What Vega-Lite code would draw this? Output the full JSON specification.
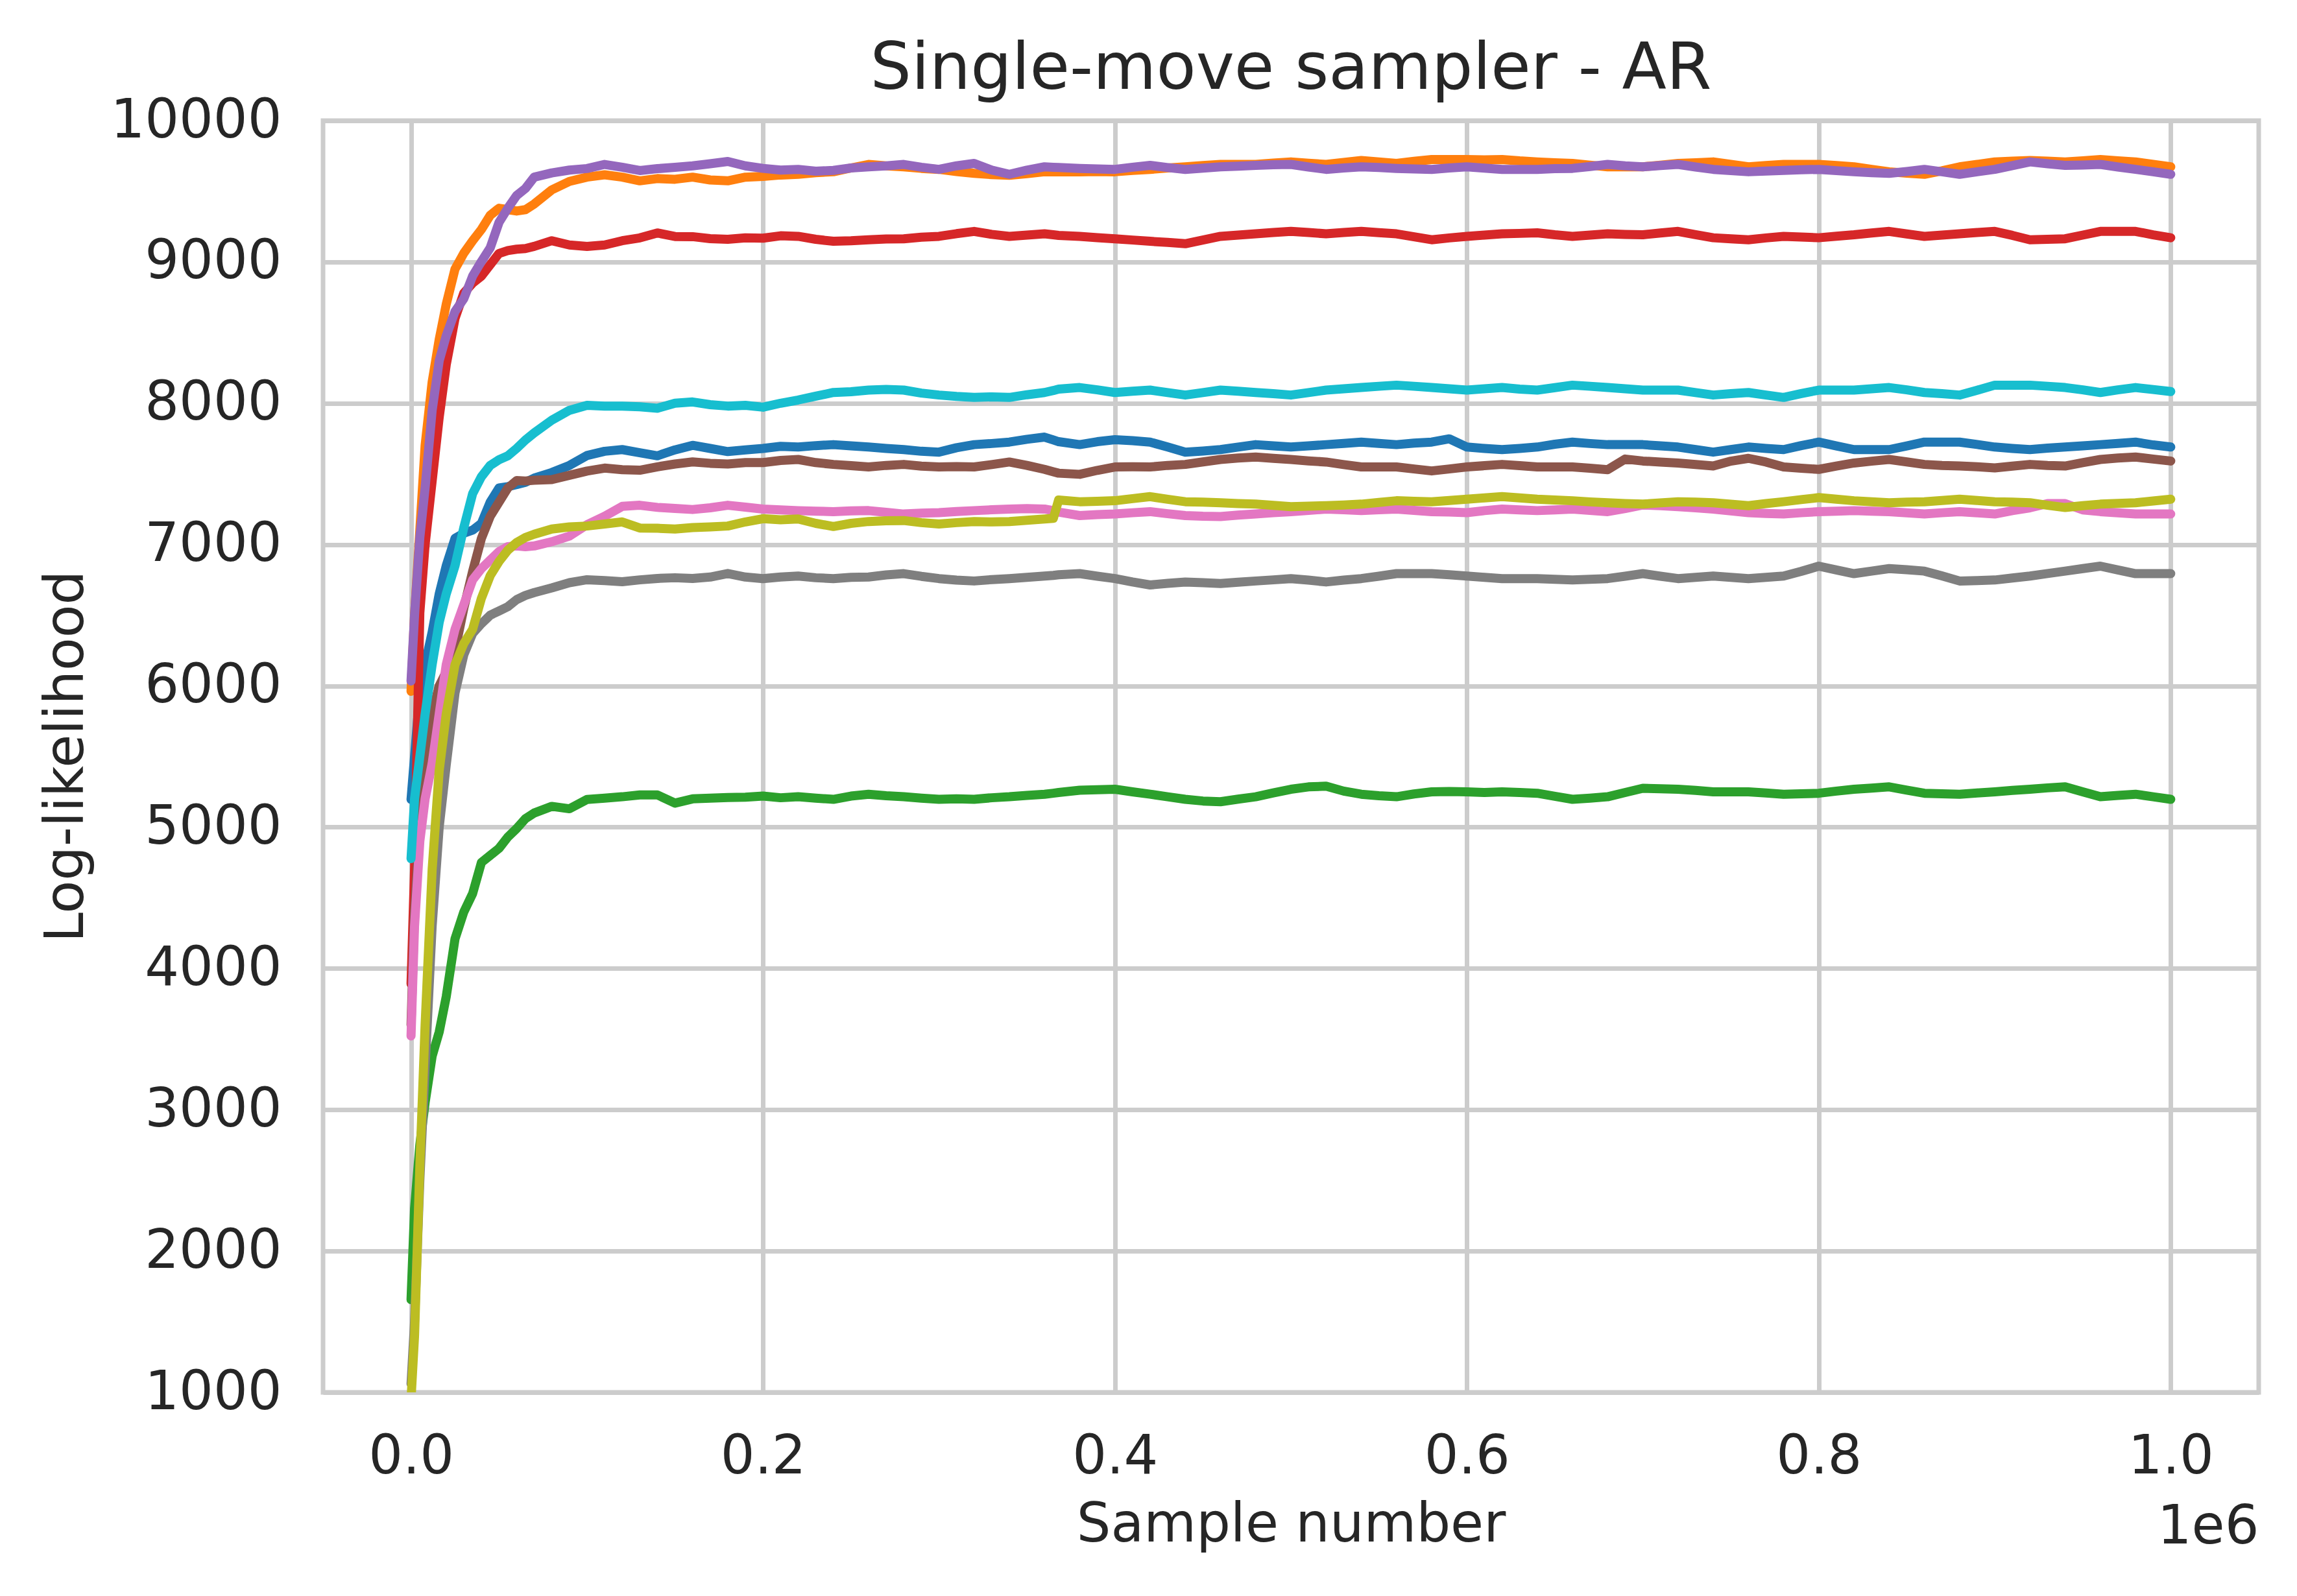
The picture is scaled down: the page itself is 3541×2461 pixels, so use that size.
{
  "$schema": "https://vega.github.io/schema/vega-lite/v6.json",
  "description": "Log-likelihood traces of ten chains, single-move sampler (AR).",
  "background": "white",
  "autosize": "none",
  "padding": {"left": 498, "top": 186, "right": 59, "bottom": 314},
  "width": 2984,
  "height": 1961,
  "title": {
    "text": "Single-move sampler - AR",
    "font": "DejaVu Sans",
    "fontSize": 100,
    "fontWeight": "normal",
    "color": "#262626",
    "baseline": "alphabetic",
    "frame": "group",
    "offset": -92
  },
  "layer": [
    {
      "data": {
        "values": [
          {"s": 0, "c1": 5196, "c2": 5961, "c3": 1656, "c4": 3892, "c5": 6034, "c6": 3600, "c7": 3522, "c8": 1060, "c9": 950, "c10": 4777},
          {"s": 2000, "c1": 5500, "c2": 6500, "c3": 2300, "c4": 4700, "c5": 6500, "c6": 4400, "c7": 4300, "c8": 1500, "c9": 1400, "c10": 5200},
          {"s": 5000, "c1": 5950, "c2": 7100, "c3": 2750, "c4": 6517, "c5": 7050, "c6": 5000, "c7": 4900, "c8": 2500, "c9": 2600, "c10": 5500},
          {"s": 8000, "c1": 6150, "c2": 7700, "c3": 3050, "c4": 7000, "c5": 7400, "c6": 5500, "c7": 5200, "c8": 3300, "c9": 3600, "c10": 5800},
          {"s": 12000, "c1": 6380, "c2": 8150, "c3": 3380, "c4": 7450, "c5": 7950, "c6": 5800, "c7": 5450, "c8": 4300, "c9": 4700, "c10": 6150},
          {"s": 16000, "c1": 6650, "c2": 8450, "c3": 3550, "c4": 7900, "c5": 8300, "c6": 6000, "c7": 5800, "c8": 5000, "c9": 5400, "c10": 6450},
          {"s": 20000, "c1": 6850, "c2": 8700, "c3": 3800, "c4": 8272, "c5": 8477, "c6": 6100, "c7": 6150, "c8": 5440, "c9": 5800, "c10": 6650},
          {"s": 25000, "c1": 7044, "c2": 8950, "c3": 4210, "c4": 8600, "c5": 8650, "c6": 6250, "c7": 6400, "c8": 5950, "c9": 6150, "c10": 6850},
          {"s": 30000, "c1": 7080, "c2": 9062, "c3": 4400, "c4": 8780, "c5": 8740, "c6": 6550, "c7": 6575, "c8": 6220, "c9": 6300, "c10": 7120},
          {"s": 35000, "c1": 7102, "c2": 9150, "c3": 4530, "c4": 8850, "c5": 8900, "c6": 6810, "c7": 6750, "c8": 6371, "c9": 6400, "c10": 7360},
          {"s": 40000, "c1": 7150, "c2": 9230, "c3": 4750, "c4": 8900, "c5": 9003, "c6": 7044, "c7": 6830, "c8": 6440, "c9": 6620, "c10": 7480},
          {"s": 45000, "c1": 7300, "c2": 9330, "c3": 4800, "c4": 8980, "c5": 9100, "c6": 7200, "c7": 6890, "c8": 6500, "c9": 6780, "c10": 7560},
          {"s": 50000, "c1": 7400, "c2": 9380, "c3": 4850, "c4": 9060, "c5": 9280, "c6": 7300, "c7": 6950, "c8": 6530, "c9": 6880, "c10": 7600},
          {"s": 55000, "c1": 7410, "c2": 9370, "c3": 4930, "c4": 9080, "c5": 9380, "c6": 7400, "c7": 6985, "c8": 6560, "c9": 6960, "c10": 7628},
          {"s": 60000, "c1": 7424, "c2": 9360, "c3": 4990, "c4": 9090, "c5": 9470, "c6": 7453, "c7": 6990, "c8": 6610, "c9": 7014, "c10": 7680},
          {"s": 65000, "c1": 7440, "c2": 9370, "c3": 5060, "c4": 9095, "c5": 9520, "c6": 7450, "c7": 6985, "c8": 6640, "c9": 7050, "c10": 7740},
          {"s": 70000, "c1": 7470, "c2": 9410, "c3": 5100, "c4": 9110, "c5": 9600, "c6": 7455, "c7": 6990, "c8": 6660, "c9": 7073, "c10": 7790},
          {"s": 80000, "c1": 7510, "c2": 9510, "c3": 5147, "c4": 9150, "c5": 9630, "c6": 7460, "c7": 7020, "c8": 6693, "c9": 7110, "c10": 7880},
          {"s": 90000, "c1": 7560, "c2": 9570, "c3": 5130, "c4": 9120, "c5": 9650, "c6": 7490, "c7": 7060, "c8": 6730, "c9": 7125, "c10": 7950},
          {"s": 100000, "c1": 7630, "c2": 9600, "c3": 5196, "c4": 9110, "c5": 9661, "c6": 7520, "c7": 7140, "c8": 6751, "c9": 7131, "c10": 7985},
          {"s": 110000, "c1": 7660, "c2": 9617, "c3": 5205, "c4": 9120, "c5": 9690, "c6": 7541, "c7": 7200, "c8": 6745, "c9": 7145, "c10": 7980},
          {"s": 120000, "c1": 7672, "c2": 9600, "c3": 5215, "c4": 9150, "c5": 9670, "c6": 7530, "c7": 7270, "c8": 6737, "c9": 7160, "c10": 7980},
          {"s": 130000, "c1": 7650, "c2": 9574, "c3": 5228, "c4": 9170, "c5": 9647, "c6": 7526, "c7": 7278, "c8": 6750, "c9": 7117, "c10": 7975},
          {"s": 140000, "c1": 7628, "c2": 9590, "c3": 5228, "c4": 9205, "c5": 9660, "c6": 7550, "c7": 7263, "c8": 6760, "c9": 7115, "c10": 7965},
          {"s": 150000, "c1": 7670, "c2": 9585, "c3": 5170, "c4": 9180, "c5": 9670, "c6": 7570, "c7": 7255, "c8": 6765, "c9": 7110, "c10": 8000},
          {"s": 160000, "c1": 7702, "c2": 9600, "c3": 5200, "c4": 9179, "c5": 9680, "c6": 7585, "c7": 7248, "c8": 6760, "c9": 7120, "c10": 8009},
          {"s": 170000, "c1": 7680, "c2": 9580, "c3": 5205, "c4": 9165, "c5": 9695, "c6": 7575, "c7": 7260, "c8": 6770, "c9": 7125, "c10": 7990},
          {"s": 180000, "c1": 7658, "c2": 9574, "c3": 5210, "c4": 9160, "c5": 9711, "c6": 7570, "c7": 7278, "c8": 6795, "c9": 7131, "c10": 7980},
          {"s": 190000, "c1": 7670, "c2": 9600, "c3": 5212, "c4": 9170, "c5": 9680, "c6": 7580, "c7": 7265, "c8": 6770, "c9": 7160, "c10": 7985},
          {"s": 200000, "c1": 7680, "c2": 9605, "c3": 5220, "c4": 9168, "c5": 9662, "c6": 7580, "c7": 7251, "c8": 6759, "c9": 7183, "c10": 7972},
          {"s": 210000, "c1": 7695, "c2": 9615, "c3": 5208, "c4": 9185, "c5": 9650, "c6": 7595, "c7": 7245, "c8": 6770, "c9": 7175, "c10": 8000},
          {"s": 220000, "c1": 7690, "c2": 9620, "c3": 5215, "c4": 9181, "c5": 9655, "c6": 7602, "c7": 7240, "c8": 6777, "c9": 7181, "c10": 8023},
          {"s": 230000, "c1": 7700, "c2": 9632, "c3": 5205, "c4": 9160, "c5": 9642, "c6": 7580, "c7": 7236, "c8": 6765, "c9": 7150, "c10": 8050},
          {"s": 240000, "c1": 7707, "c2": 9638, "c3": 5197, "c4": 9146, "c5": 9648, "c6": 7567, "c7": 7233, "c8": 6759, "c9": 7128, "c10": 8076},
          {"s": 250000, "c1": 7698, "c2": 9665, "c3": 5220, "c4": 9150, "c5": 9665, "c6": 7558, "c7": 7238, "c8": 6768, "c9": 7150, "c10": 8082},
          {"s": 260000, "c1": 7690, "c2": 9690, "c3": 5233, "c4": 9157, "c5": 9673, "c6": 7549, "c7": 7240, "c8": 6770, "c9": 7163, "c10": 8093},
          {"s": 270000, "c1": 7680, "c2": 9680, "c3": 5222, "c4": 9162, "c5": 9680, "c6": 7560, "c7": 7228, "c8": 6785, "c9": 7168, "c10": 8098},
          {"s": 280000, "c1": 7672, "c2": 9673, "c3": 5215, "c4": 9164, "c5": 9690, "c6": 7567, "c7": 7216, "c8": 6794, "c9": 7170, "c10": 8093},
          {"s": 290000, "c1": 7660, "c2": 9662, "c3": 5205, "c4": 9175, "c5": 9670, "c6": 7555, "c7": 7222, "c8": 6775, "c9": 7155, "c10": 8072},
          {"s": 300000, "c1": 7654, "c2": 9655, "c3": 5197, "c4": 9181, "c5": 9655, "c6": 7549, "c7": 7226, "c8": 6759, "c9": 7145, "c10": 8058},
          {"s": 310000, "c1": 7685, "c2": 9640, "c3": 5200, "c4": 9200, "c5": 9680, "c6": 7552, "c7": 7234, "c8": 6748, "c9": 7155, "c10": 8048},
          {"s": 320000, "c1": 7707, "c2": 9627, "c3": 5197, "c4": 9216, "c5": 9697, "c6": 7549, "c7": 7240, "c8": 6742, "c9": 7163, "c10": 8041},
          {"s": 330000, "c1": 7715, "c2": 9618, "c3": 5208, "c4": 9195, "c5": 9650, "c6": 7566, "c7": 7246, "c8": 6752, "c9": 7160, "c10": 8045},
          {"s": 340000, "c1": 7725, "c2": 9613, "c3": 5215, "c4": 9181, "c5": 9620, "c6": 7584, "c7": 7251, "c8": 6759, "c9": 7163, "c10": 8041},
          {"s": 350000, "c1": 7745, "c2": 9625, "c3": 5225, "c4": 9190, "c5": 9650, "c6": 7560, "c7": 7254, "c8": 6768, "c9": 7172, "c10": 8060},
          {"s": 360000, "c1": 7760, "c2": 9638, "c3": 5233, "c4": 9199, "c5": 9673, "c6": 7532, "c7": 7251, "c8": 6777, "c9": 7181, "c10": 8076},
          {"s": 365000, "c1": 7740, "c2": 9638, "c3": 5240, "c4": 9192, "c5": 9670, "c6": 7515, "c7": 7240, "c8": 6782, "c9": 7185, "c10": 8090},
          {"s": 368000, "c1": 7728, "c2": 9638, "c3": 5245, "c4": 9188, "c5": 9668, "c6": 7505, "c7": 7230, "c8": 6786, "c9": 7315, "c10": 8100},
          {"s": 380000, "c1": 7707, "c2": 9638, "c3": 5261, "c4": 9181, "c5": 9662, "c6": 7497, "c7": 7205, "c8": 6794, "c9": 7303, "c10": 8111},
          {"s": 390000, "c1": 7728, "c2": 9640, "c3": 5265, "c4": 9172, "c5": 9658, "c6": 7525, "c7": 7212, "c8": 6776, "c9": 7306, "c10": 8095},
          {"s": 400000, "c1": 7742, "c2": 9638, "c3": 5268, "c4": 9164, "c5": 9655, "c6": 7549, "c7": 7216, "c8": 6759, "c9": 7310, "c10": 8076},
          {"s": 410000, "c1": 7735, "c2": 9648, "c3": 5250, "c4": 9155, "c5": 9670, "c6": 7550, "c7": 7225, "c8": 6735, "c9": 7325, "c10": 8085},
          {"s": 420000, "c1": 7725, "c2": 9655, "c3": 5233, "c4": 9146, "c5": 9683, "c6": 7549, "c7": 7233, "c8": 6714, "c9": 7339, "c10": 8093},
          {"s": 430000, "c1": 7690, "c2": 9665, "c3": 5215, "c4": 9138, "c5": 9668, "c6": 7560, "c7": 7218, "c8": 6725, "c9": 7320, "c10": 8075},
          {"s": 440000, "c1": 7654, "c2": 9673, "c3": 5197, "c4": 9129, "c5": 9655, "c6": 7567, "c7": 7205, "c8": 6735, "c9": 7303, "c10": 8058},
          {"s": 450000, "c1": 7662, "c2": 9682, "c3": 5185, "c4": 9155, "c5": 9664, "c6": 7585, "c7": 7200, "c8": 6730, "c9": 7300, "c10": 8075},
          {"s": 460000, "c1": 7672, "c2": 9690, "c3": 5180, "c4": 9181, "c5": 9673, "c6": 7602, "c7": 7198, "c8": 6724, "c9": 7296, "c10": 8093},
          {"s": 470000, "c1": 7690, "c2": 9690, "c3": 5198, "c4": 9190, "c5": 9678, "c6": 7612, "c7": 7208, "c8": 6733, "c9": 7290, "c10": 8085},
          {"s": 480000, "c1": 7707, "c2": 9690, "c3": 5215, "c4": 9199, "c5": 9683, "c6": 7619, "c7": 7216, "c8": 6742, "c9": 7286, "c10": 8076},
          {"s": 490000, "c1": 7698, "c2": 9700, "c3": 5242, "c4": 9208, "c5": 9688, "c6": 7610, "c7": 7225, "c8": 6750, "c9": 7277, "c10": 8068},
          {"s": 500000, "c1": 7690, "c2": 9708, "c3": 5268, "c4": 9216, "c5": 9690, "c6": 7602, "c7": 7233, "c8": 6759, "c9": 7268, "c10": 8058},
          {"s": 510000, "c1": 7698, "c2": 9698, "c3": 5285, "c4": 9208, "c5": 9672, "c6": 7592, "c7": 7242, "c8": 6748, "c9": 7272, "c10": 8075},
          {"s": 520000, "c1": 7707, "c2": 9690, "c3": 5290, "c4": 9199, "c5": 9655, "c6": 7584, "c7": 7251, "c8": 6735, "c9": 7275, "c10": 8093},
          {"s": 530000, "c1": 7716, "c2": 9704, "c3": 5255, "c4": 9208, "c5": 9665, "c6": 7566, "c7": 7246, "c8": 6748, "c9": 7280, "c10": 8102},
          {"s": 540000, "c1": 7725, "c2": 9718, "c3": 5233, "c4": 9216, "c5": 9673, "c6": 7549, "c7": 7240, "c8": 6759, "c9": 7286, "c10": 8111},
          {"s": 550000, "c1": 7716, "c2": 9708, "c3": 5222, "c4": 9207, "c5": 9668, "c6": 7549, "c7": 7246, "c8": 6776, "c9": 7298, "c10": 8120},
          {"s": 560000, "c1": 7707, "c2": 9697, "c3": 5215, "c4": 9199, "c5": 9662, "c6": 7549, "c7": 7251, "c8": 6794, "c9": 7310, "c10": 8128},
          {"s": 570000, "c1": 7718, "c2": 9712, "c3": 5235, "c4": 9178, "c5": 9658, "c6": 7535, "c7": 7242, "c8": 6794, "c9": 7306, "c10": 8120},
          {"s": 580000, "c1": 7725, "c2": 9725, "c3": 5250, "c4": 9157, "c5": 9655, "c6": 7521, "c7": 7233, "c8": 6794, "c9": 7303, "c10": 8111},
          {"s": 590000, "c1": 7748, "c2": 9725, "c3": 5252, "c4": 9170, "c5": 9665, "c6": 7535, "c7": 7230, "c8": 6786, "c9": 7312, "c10": 8102},
          {"s": 600000, "c1": 7690, "c2": 9725, "c3": 5250, "c4": 9181, "c5": 9673, "c6": 7549, "c7": 7226, "c8": 6777, "c9": 7321, "c10": 8093},
          {"s": 610000, "c1": 7680, "c2": 9722, "c3": 5245, "c4": 9190, "c5": 9664, "c6": 7558, "c7": 7240, "c8": 6768, "c9": 7330, "c10": 8102},
          {"s": 620000, "c1": 7672, "c2": 9725, "c3": 5250, "c4": 9199, "c5": 9655, "c6": 7567, "c7": 7251, "c8": 6759, "c9": 7339, "c10": 8111},
          {"s": 630000, "c1": 7680, "c2": 9715, "c3": 5245, "c4": 9202, "c5": 9655, "c6": 7558, "c7": 7245, "c8": 6759, "c9": 7330, "c10": 8100},
          {"s": 640000, "c1": 7690, "c2": 9708, "c3": 5240, "c4": 9206, "c5": 9655, "c6": 7549, "c7": 7240, "c8": 6759, "c9": 7321, "c10": 8093},
          {"s": 650000, "c1": 7710, "c2": 9702, "c3": 5218, "c4": 9192, "c5": 9660, "c6": 7549, "c7": 7245, "c8": 6754, "c9": 7315, "c10": 8110},
          {"s": 660000, "c1": 7725, "c2": 9697, "c3": 5197, "c4": 9181, "c5": 9662, "c6": 7549, "c7": 7251, "c8": 6749, "c9": 7310, "c10": 8128},
          {"s": 670000, "c1": 7715, "c2": 9685, "c3": 5205, "c4": 9190, "c5": 9675, "c6": 7540, "c7": 7242, "c8": 6754, "c9": 7302, "c10": 8120},
          {"s": 680000, "c1": 7707, "c2": 9673, "c3": 5215, "c4": 9199, "c5": 9690, "c6": 7530, "c7": 7233, "c8": 6759, "c9": 7296, "c10": 8111},
          {"s": 690000, "c1": 7707, "c2": 9673, "c3": 5245, "c4": 9195, "c5": 9680, "c6": 7605, "c7": 7255, "c8": 6776, "c9": 7290, "c10": 8102},
          {"s": 700000, "c1": 7707, "c2": 9673, "c3": 5275, "c4": 9192, "c5": 9673, "c6": 7591, "c7": 7280, "c8": 6794, "c9": 7286, "c10": 8093},
          {"s": 710000, "c1": 7698, "c2": 9685, "c3": 5272, "c4": 9205, "c5": 9682, "c6": 7584, "c7": 7275, "c8": 6776, "c9": 7295, "c10": 8093},
          {"s": 720000, "c1": 7690, "c2": 9697, "c3": 5268, "c4": 9216, "c5": 9690, "c6": 7577, "c7": 7268, "c8": 6759, "c9": 7303, "c10": 8093},
          {"s": 730000, "c1": 7672, "c2": 9702, "c3": 5260, "c4": 9193, "c5": 9672, "c6": 7566, "c7": 7260, "c8": 6768, "c9": 7300, "c10": 8075},
          {"s": 740000, "c1": 7654, "c2": 9708, "c3": 5250, "c4": 9171, "c5": 9655, "c6": 7556, "c7": 7251, "c8": 6777, "c9": 7296, "c10": 8058},
          {"s": 750000, "c1": 7672, "c2": 9690, "c3": 5250, "c4": 9164, "c5": 9646, "c6": 7590, "c7": 7238, "c8": 6768, "c9": 7285, "c10": 8068},
          {"s": 760000, "c1": 7690, "c2": 9673, "c3": 5250, "c4": 9157, "c5": 9638, "c6": 7610, "c7": 7226, "c8": 6759, "c9": 7275, "c10": 8076},
          {"s": 770000, "c1": 7680, "c2": 9682, "c3": 5242, "c4": 9170, "c5": 9643, "c6": 7584, "c7": 7220, "c8": 6768, "c9": 7290, "c10": 8058},
          {"s": 780000, "c1": 7672, "c2": 9690, "c3": 5233, "c4": 9181, "c5": 9648, "c6": 7549, "c7": 7216, "c8": 6777, "c9": 7303, "c10": 8041},
          {"s": 790000, "c1": 7700, "c2": 9690, "c3": 5236, "c4": 9176, "c5": 9652, "c6": 7540, "c7": 7225, "c8": 6810, "c9": 7318, "c10": 8068},
          {"s": 800000, "c1": 7725, "c2": 9690, "c3": 5240, "c4": 9171, "c5": 9655, "c6": 7532, "c7": 7233, "c8": 6847, "c9": 7332, "c10": 8093},
          {"s": 810000, "c1": 7698, "c2": 9682, "c3": 5255, "c4": 9182, "c5": 9646, "c6": 7555, "c7": 7236, "c8": 6820, "c9": 7321, "c10": 8093},
          {"s": 820000, "c1": 7672, "c2": 9673, "c3": 5268, "c4": 9192, "c5": 9638, "c6": 7577, "c7": 7240, "c8": 6794, "c9": 7310, "c10": 8093},
          {"s": 830000, "c1": 7672, "c2": 9655, "c3": 5276, "c4": 9205, "c5": 9632, "c6": 7590, "c7": 7236, "c8": 6812, "c9": 7303, "c10": 8102},
          {"s": 840000, "c1": 7672, "c2": 9638, "c3": 5285, "c4": 9216, "c5": 9627, "c6": 7602, "c7": 7233, "c8": 6830, "c9": 7296, "c10": 8111},
          {"s": 850000, "c1": 7698, "c2": 9628, "c3": 5262, "c4": 9198, "c5": 9640, "c6": 7585, "c7": 7225, "c8": 6822, "c9": 7300, "c10": 8095},
          {"s": 860000, "c1": 7725, "c2": 9620, "c3": 5240, "c4": 9181, "c5": 9655, "c6": 7567, "c7": 7216, "c8": 6812, "c9": 7303, "c10": 8076},
          {"s": 870000, "c1": 7725, "c2": 9645, "c3": 5236, "c4": 9190, "c5": 9638, "c6": 7560, "c7": 7225, "c8": 6778, "c9": 7312, "c10": 8068},
          {"s": 880000, "c1": 7725, "c2": 9673, "c3": 5233, "c4": 9199, "c5": 9620, "c6": 7556, "c7": 7233, "c8": 6742, "c9": 7321, "c10": 8058},
          {"s": 890000, "c1": 7708, "c2": 9690, "c3": 5242, "c4": 9208, "c5": 9638, "c6": 7550, "c7": 7225, "c8": 6745, "c9": 7312, "c10": 8092},
          {"s": 900000, "c1": 7690, "c2": 9708, "c3": 5250, "c4": 9216, "c5": 9655, "c6": 7542, "c7": 7216, "c8": 6749, "c9": 7303, "c10": 8128},
          {"s": 910000, "c1": 7680, "c2": 9713, "c3": 5260, "c4": 9188, "c5": 9682, "c6": 7555, "c7": 7240, "c8": 6763, "c9": 7300, "c10": 8128},
          {"s": 920000, "c1": 7672, "c2": 9718, "c3": 5268, "c4": 9157, "c5": 9708, "c6": 7567, "c7": 7260, "c8": 6777, "c9": 7296, "c10": 8128},
          {"s": 930000, "c1": 7682, "c2": 9713, "c3": 5278, "c4": 9160, "c5": 9695, "c6": 7560, "c7": 7290, "c8": 6795, "c9": 7278, "c10": 8120},
          {"s": 940000, "c1": 7690, "c2": 9708, "c3": 5285, "c4": 9164, "c5": 9683, "c6": 7556, "c7": 7290, "c8": 6812, "c9": 7262, "c10": 8111},
          {"s": 950000, "c1": 7698, "c2": 9716, "c3": 5250, "c4": 9190, "c5": 9686, "c6": 7580, "c7": 7245, "c8": 6830, "c9": 7275, "c10": 8095},
          {"s": 960000, "c1": 7707, "c2": 9725, "c3": 5215, "c4": 9216, "c5": 9690, "c6": 7602, "c7": 7233, "c8": 6847, "c9": 7286, "c10": 8076},
          {"s": 970000, "c1": 7716, "c2": 9716, "c3": 5225, "c4": 9216, "c5": 9672, "c6": 7612, "c7": 7225, "c8": 6820, "c9": 7291, "c10": 8095},
          {"s": 980000, "c1": 7725, "c2": 9708, "c3": 5233, "c4": 9216, "c5": 9655, "c6": 7619, "c7": 7216, "c8": 6794, "c9": 7296, "c10": 8111},
          {"s": 990000, "c1": 7705, "c2": 9690, "c3": 5215, "c4": 9192, "c5": 9638, "c6": 7605, "c7": 7216, "c8": 6794, "c9": 7308, "c10": 8097},
          {"s": 1000000, "c1": 7690, "c2": 9673, "c3": 5197, "c4": 9171, "c5": 9620, "c6": 7591, "c7": 7216, "c8": 6794, "c9": 7321, "c10": 8083}
        ]
      },
      "transform": [
        {"fold": ["c1", "c2", "c3", "c4", "c5", "c6", "c7", "c8", "c9", "c10"], "as": ["chain", "loglik"]}
      ],
      "mark": {"type": "line", "strokeWidth": 14, "clip": true, "strokeJoin": "round", "strokeCap": "round"},
      "encoding": {
        "x": {
          "field": "s",
          "type": "quantitative",
          "scale": {"domain": [-50000, 1050000], "nice": false, "zero": false},
          "axis": {
            "orient": "bottom",
            "values": [0, 200000, 400000, 600000, 800000, 1000000],
            "labelExpr": "format(datum.value / 1000000, '.1f')",
            "labelBaseline": "alphabetic",
            "labelPadding": 124,
            "title": "Sample number",
            "titleX": 1492,
            "titleY": 229,
            "titleAlign": "center",
            "titleBaseline": "alphabetic"
          }
        },
        "y": {
          "field": "loglik",
          "type": "quantitative",
          "scale": {"domain": [1000, 10000], "nice": false, "zero": false},
          "axis": {
            "values": [1000, 2000, 3000, 4000, 5000, 6000, 7000, 8000, 9000, 10000],
            "format": "d",
            "labelPadding": 64,
            "labelLimit": 0,
            "title": "Log-likelihood",
            "titleX": -396,
            "titleY": 980,
            "titleAngle": -90,
            "titleAlign": "center",
            "titleBaseline": "middle"
          }
        },
        "color": {
          "field": "chain",
          "type": "nominal",
          "scale": {
            "domain": ["c1", "c2", "c3", "c4", "c5", "c6", "c7", "c8", "c9", "c10"],
            "range": ["#1f77b4", "#ff7f0e", "#2ca02c", "#d62728", "#9467bd", "#8c564b", "#e377c2", "#7f7f7f", "#bcbd22", "#17becf"]
          },
          "legend": null
        }
      }
    },
    {
      "data": {"values": [{"s": 1000000}]},
      "mark": {"type": "rule", "strokeOpacity": 0},
      "encoding": {
        "x": {
          "field": "s",
          "type": "quantitative",
          "axis": {
            "orient": "bottom",
            "labels": false,
            "grid": false,
            "title": "1e6",
            "titleX": 2984,
            "titleY": 232,
            "titleAlign": "right",
            "titleBaseline": "alphabetic"
          }
        }
      }
    }
  ],
  "resolve": {"axis": {"x": "independent"}},
  "config": {
    "view": {"stroke": "#cccccc", "strokeWidth": 7},
    "axis": {
      "labelFont": "DejaVu Sans",
      "titleFont": "DejaVu Sans",
      "labelFontSize": 83,
      "titleFontSize": 83,
      "titleFontWeight": "normal",
      "labelColor": "#262626",
      "titleColor": "#262626",
      "gridColor": "#cccccc",
      "gridWidth": 7,
      "domain": false,
      "ticks": false,
      "tickSize": 0
    }
  }
}
